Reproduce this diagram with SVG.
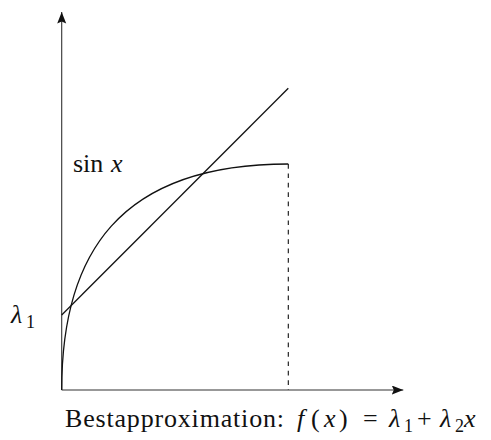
<svg xmlns="http://www.w3.org/2000/svg" width="491" height="440" viewBox="0 0 491 440">
<style>
  .axis { stroke: #333; stroke-width: 1.1; fill: none; }
  .plot { stroke: #111; stroke-width: 1.3; fill: none; }
  .dash { stroke: #111; stroke-width: 1.1; fill: none; stroke-dasharray: 4.7 4.7; }
  text { font-family: "Liberation Serif", "DejaVu Serif", serif; font-size: 26px; fill: #111; }
  .it { font-style: italic; }
  .sub { font-size: 18px; font-style: normal; }
</style>
<defs>
  <marker id="arr" markerUnits="userSpaceOnUse" markerWidth="14" markerHeight="12" refX="11.5" refY="4.5" orient="auto">
    <path d="M0,0 L11.5,4.5 L0,9 L2,4.5 Z" fill="#111"/>
  </marker>
</defs>
<rect width="491" height="440" fill="#fff"/>
<g id="axes">
  <line class="axis" x1="61.7" y1="390" x2="61.7" y2="12" marker-end="url(#arr)"/>
  <line class="axis" x1="61.7" y1="390" x2="403.3" y2="390" marker-end="url(#arr)"/>
</g>
<g id="connectors">
  <path id="sin-curve" class="plot" d="M61.7,390 C61.7,254.4 118.4,164 288.3,164"/>
  <line id="approx-line" class="plot" x1="61.7" y1="315" x2="288.3" y2="88.3"/>
  <line id="dashed" class="dash" x1="288.3" y1="164" x2="288.3" y2="390"/>
</g>
<g id="label-sin">
  <text x="73" y="172">sin <tspan class="it" x="111">x</tspan></text>
</g>
<g id="label-lambda1">
  <text class="it" x="11" y="323">λ<tspan class="sub" x="26" y="328">1</tspan></text>
</g>
<g id="caption">
  <text x="65" y="427" textLength="219" lengthAdjust="spacing">Bestapproximation:</text>
  <text y="427"><tspan class="it" x="297">f</tspan><tspan x="311">(</tspan><tspan class="it" x="324">x</tspan><tspan x="339">)</tspan><tspan x="363">=</tspan><tspan class="it" x="389">λ</tspan><tspan class="sub" x="404" y="432">1</tspan><tspan x="417" y="427">+</tspan><tspan class="it" x="440">λ</tspan><tspan class="sub" x="455" y="432">2</tspan><tspan class="it" x="464" y="427">x</tspan></text>
</g>
</svg>
